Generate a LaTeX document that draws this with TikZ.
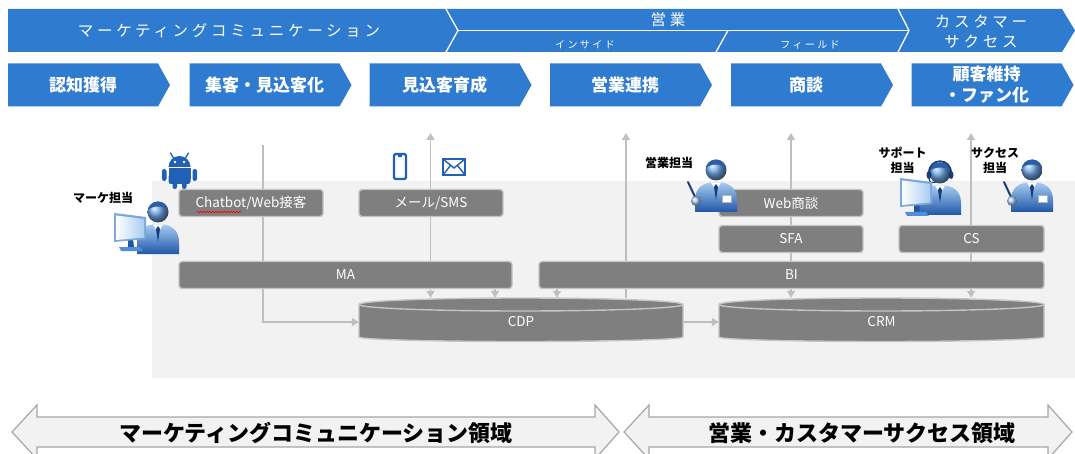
\documentclass[tikz,border=0pt]{standalone}
\usepackage{fontspec}
\setmainfont{Noto Sans CJK JP}
\newfontfamily\trackedjp{Noto Sans CJK JP}[LetterSpace=24]
\usetikzlibrary{arrows.meta,calc,decorations.pathmorphing}

\definecolor{brandblue}{HTML}{2F7BD0}
\definecolor{boxgray}{HTML}{7F7F7F}
\definecolor{edgegray}{HTML}{C4C4C4}
\definecolor{wiregray}{HTML}{BFBFBF}
\definecolor{panelgray}{HTML}{F2F2F2}
\definecolor{zoneedge}{HTML}{A6A6A6}
\definecolor{iconblue}{HTML}{2160B4}
\definecolor{skyA}{HTML}{A9CDF2}
\definecolor{skyB}{HTML}{4F8FDA}
\definecolor{skyC}{HTML}{1F57A8}
\definecolor{facecol}{HTML}{6FA6E4}
\definecolor{hairblue}{HTML}{2A5EA8}
\definecolor{navy}{HTML}{173E7A}
\definecolor{screenlight}{HTML}{D6E8FA}
\definecolor{screenedge}{HTML}{7FA8D8}

\pgfdeclarelayer{panel}
\pgfdeclarelayer{wires}
\pgfdeclarelayer{bodies}
\pgfsetlayers{panel,wires,bodies,main}

\tikzset{
  bandtext/.style={text=white, inner sep=0pt, font=\trackedjp\fontsize{15.5}{20}\selectfont, align=center},
  subtext/.style={text=white, inner sep=0pt, font=\trackedjp\fontsize{10}{12}\selectfont},
  steptext/.style={text=white, inner sep=0pt, font=\bfseries\fontsize{17}{21}\selectfont, align=center},
  sysbox/.style={rectangle, rounded corners=3pt, fill=boxgray, draw=edgegray, line width=1.4pt,
    text=white, font=\fontsize{13.5}{16}\selectfont, inner sep=0pt, minimum height=27pt},
  drumtext/.style={rectangle, inner sep=0pt, text=white, font=\fontsize{13.5}{16}\selectfont,
    minimum height=48pt},
  drum/.style={fill=boxgray, draw=edgegray, line width=1.4pt},
  wire/.style={draw=wiregray, line width=1.6pt},
  wirearrow/.style={wire, -{Triangle[length=7pt,width=8pt]}},
  who/.style={inner sep=0pt, text=black, font=\bfseries\fontsize{12}{15}\selectfont, align=center},
  zone/.style={fill=panelgray, draw=zoneedge, line width=1.2pt},
  zonetext/.style={inner sep=0pt, text=black, font=\bfseries\fontsize{22}{26}\selectfont},
  % person figure, origin at the centre of the head
  pics/agent/.style={code={
    \shade[top color=skyA, middle color=skyB, bottom color=skyC]
      (-21,42) -- (-21,30) .. controls (-21,18) and (-13,12) .. (0,12)
      .. controls (13,12) and (21,18) .. (21,30) -- (21,42) -- cycle;
    \fill[white] (-5,12.5) -- (0,21) -- (5,12.5) -- cycle;
    \fill[navy] (0,14) -- (-2,17) -- (0,30) -- (2,17) -- cycle;
    \shade[ball color=facecol] (0,0) circle (10.5);
    \begin{scope}
      \clip (0,0) circle (10.5);
      \fill[hairblue] (-11,-1) .. controls (-7,-7) and (7,-7) .. (11,-1) -- (11,-11) -- (-11,-11) -- cycle;
    \end{scope}
  }},
  pics/pen/.style={code={
    \draw[navy, line width=2pt, line cap=round] (-28,12) -- (-20,29);
    \shade[ball color=skyA] (-20,31) circle (5);
  }},
  pics/badge/.style={code={
    \filldraw[fill=white, draw=gray!60, line width=0.4pt] (6,25) rectangle (15,32);
  }},
  pics/headset/.style={code={
    \draw[navy, line width=1.8pt] (-11,1) .. controls (-12,-16) and (12,-16) .. (11,1);
    \fill[navy] (-11,2) ellipse (2.5 and 4);
    \fill[navy] (11,2) ellipse (2.5 and 4);
    \draw[navy, line width=1.2pt] (-11,5) .. controls (-10,10) .. (-4,9);
  }},
  pics/screen/.style={code={
    \fill[skyC] (-3,12) -- (2,11) -- (3,19) -- (-3,19) -- cycle;
    \fill[skyB] (-12,19) -- (9,19) -- (12,23) -- (-10,23) -- cycle;
    \fill[screenedge] (-17,-15) -- (15,-11) -- (15,11) -- (-17,14) -- cycle;
    \shade[left color=white, right color=skyA] (-15,-12.5) -- (13,-9) -- (13,9.5) -- (-15,12) -- cycle;
  }},
}

\begin{document}
\begin{tikzpicture}[x=1pt,y=-1pt]
\useasboundingbox (0,0) rectangle (1075,454);

% ---- phase band ----
\fill[brandblue] (8,9) -- (446,9) -- (458,30.5) -- (446,52) -- (8,52) -- cycle;
\fill[brandblue] (446,9) -- (898,9) -- (909,30.5) -- (898,52) -- (446,52) -- (458,30.5) -- cycle;
\fill[brandblue] (898,9) -- (1062,9) -- (1075,30.5) -- (1062,52) -- (898,52) -- (909,30.5) -- cycle;
\draw[white, line width=1.3pt] (446,9) -- (458,30.5) -- (446,52);
\draw[white, line width=1.3pt] (898,9) -- (909,30.5) -- (898,52);
\draw[white, line width=1.3pt] (458,30.5) -- (909,30.5);
\draw[white, line width=1.3pt] (728,30.5) -- (716,52);

\node[bandtext] (mc) at (229,31) {マーケティングコミュニケーション};
\node[bandtext] (sales) at (668,19.5) {営業};
\node[subtext] (inside) at (585,45) {インサイド};
\node[subtext] (field) at (810,45) {フィールド};
\node[bandtext] (success) at (981,31.5) {カスタマー\\サクセス};

% ---- process steps ----
\foreach \x/\lab [count=\i] in {8/認知獲得, 189.5/集客・見込客化, 369.5/見込客育成,
    550/営業連携, 731/商談, 911.5/{顧客維持\\・ファン化}} {
  \fill[brandblue] (\x,63.5) -- ++(150,0) -- ++(12,21.5) -- ++(-12,21.5) -- ++(-150,0) -- cycle;
  \node[steptext] (step\i) at (\x+75,85) {\lab};
}

% ---- system area ----
\begin{pgfonlayer}{panel}
  \fill[panelgray] (152,181) rectangle (1075,378);
\end{pgfonlayer}

\node[sysbox, minimum width=144pt] (chat) at (251,203) {Chatbot/Web接客};
\node[sysbox, minimum width=144pt] (mailsms) at (431,203) {メール/SMS};
\node[sysbox, minimum width=333pt] (ma) at (345.5,275) {MA};
\node[sysbox, minimum width=505pt] (bi) at (791.5,275) {BI};
\node[sysbox, minimum width=144pt] (web) at (791,203) {Web商談};
\node[sysbox, minimum width=144pt] (sfa) at (791,239) {SFA};
\node[sysbox, minimum width=145pt] (cs) at (971.5,239) {CS};

% data stores
\begin{pgfonlayer}{bodies}
  \path[drum] (359,304.5) -- (359,337) arc[start angle=180, end angle=0, x radius=162, y radius=4.5]
    -- (683,304.5) arc[start angle=0, end angle=-180, x radius=162, y radius=6.5] -- cycle;
  \draw[edgegray, line width=1.4pt] (359,304.5) arc[start angle=180, end angle=0, x radius=162, y radius=6.5];
  \path[drum] (719,304.5) -- (719,337) arc[start angle=180, end angle=0, x radius=162.5, y radius=4.5]
    -- (1044,304.5) arc[start angle=0, end angle=-180, x radius=162.5, y radius=6.5] -- cycle;
  \draw[edgegray, line width=1.4pt] (719,304.5) arc[start angle=180, end angle=0, x radius=162.5, y radius=6.5];
\end{pgfonlayer}
\node[drumtext, minimum width=324pt] (cdp) at (521,322) {CDP};
\node[drumtext, minimum width=325pt] (crm) at (881.5,322) {CRM};

% spell-check mark under the chatbot label
\draw[red, line width=0.6pt, decorate, decoration={snake, amplitude=0.9pt, segment length=3pt}]
  ($(chat.center)+(-54,9)$) -- ($(chat.center)+(-10,9)$);

% ---- data flows ----
\coordinate (t0) at (263,145);
\coordinate (up1) at (430.5,133);
\coordinate (dn1) at (495,290);
\coordinate (up2) at (626,133);
\coordinate (dn2) at (557,290);
\coordinate (up3) at (791,133);
\coordinate (up4) at (971,133);
\begin{pgfonlayer}{wires}
  \draw[wirearrow] (t0) |- (cdp.west);
  \draw[wirearrow] (ma.north -| up1) -- (up1);
  \draw[wirearrow] (ma.south -| up1) -- (cdp.north -| up1);
  \draw[wirearrow] (ma.south -| dn1) -- (cdp.north -| dn1);
  \draw[wirearrow] (cdp.north -| up2) -- (up2);
  \draw[wirearrow] (bi.south -| dn2) -- (cdp.north -| dn2);
  \draw[wirearrow] (bi.north -| up3) -- (up3);
  \draw[wirearrow] (bi.south -| up3) -- (crm.north -| up3);
  \draw[wirearrow] (bi.north -| up4) -- (up4);
  \draw[wirearrow] (bi.south -| up4) -- (crm.north -| up4);
  \draw[wirearrow] (cdp.east) -- (crm.west);
\end{pgfonlayer}

% ---- channel icons ----
\begin{scope}[shift={(179.5,170)}, iconblue]
  \fill (-11,-3) arc[start angle=180, end angle=360, radius=11] -- cycle;
  \fill[white] (-4.5,-8) circle (1.4);
  \fill[white] (4.5,-8) circle (1.4);
  \draw[line width=1.3pt, line cap=round] (-6,-12) -- (-9,-17);
  \draw[line width=1.3pt, line cap=round] (6,-12) -- (9,-17);
  \fill (-11,-1.5) rectangle (11,9);
  \fill[rounded corners=2.5pt] (-11,4) rectangle (11,14);
  \fill[rounded corners=2.2pt] (-17.5,-1) rectangle (-13,11);
  \fill[rounded corners=2.2pt] (13,-1) rectangle (17.5,11);
  \fill[rounded corners=2.2pt] (-7,10) rectangle (-2.5,19);
  \fill[rounded corners=2.2pt] (2.5,10) rectangle (7,19);
\end{scope}
% phone
\draw[iconblue, line width=2.2pt, rounded corners=1.5pt, fill=white] (394,154) rectangle (406,179);
\fill[iconblue] (398,154) rectangle (402,157);
% envelope
\draw[iconblue, line width=1.6pt, fill=white] (443,159) rectangle (465,175);
\draw[iconblue, line width=1.4pt] (443,159) -- (454,168) -- (465,159);
\draw[iconblue, line width=1.4pt] (443,175) -- (450.5,165.5);
\draw[iconblue, line width=1.4pt] (465,175) -- (457.5,165.5);

% ---- staff ----
\pic at (158,212) {agent};
\pic at (131,228) {screen};
\node[who] (mlab) at (103,198) {マーケ担当};

\pic at (716,170) {agent};
\pic at (716,170) {pen};
\pic at (716,170) {badge};
\node[who] (slab) at (669,162.5) {営業担当};

\pic at (940,173) {agent};
\pic at (940,173) {headset};
\pic at (917,193) {screen};
\node[who] (splab) at (902.5,160.5) {サポート\\担当};

\pic at (1032,170) {agent};
\pic at (1032,170) {pen};
\pic at (1032,170) {badge};
\node[who] (sclab) at (995,160.5) {サクセス\\担当};

% ---- domain arrows ----
\path[zone] (12,432) -- (37,405) -- (37,417) -- (595,417) -- (595,405) -- (619,432)
  -- (595,459) -- (595,447) -- (37,447) -- (37,459) -- cycle;
\path[zone] (624,432) -- (649,405) -- (649,417) -- (1048,417) -- (1048,405) -- (1072,432)
  -- (1048,459) -- (1048,447) -- (649,447) -- (649,459) -- cycle;
\node[zonetext] (mczone) at (316,433) {マーケティングコミュニケーション領域};
\node[zonetext] (sczone) at (862,433) {営業・カスタマーサクセス領域};
\end{tikzpicture}
\end{document}
